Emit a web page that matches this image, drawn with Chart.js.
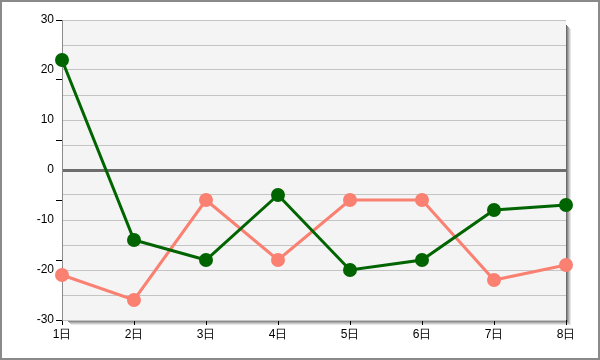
<!DOCTYPE html>
<html>
<head>
<meta charset="utf-8">
<script src="https://cdn.jsdelivr.net/npm/chart.js@4"></script>
<style>
  html, body { margin: 0; padding: 0; background: #ffffff; }
  #wrap { width: 600px; height: 360px; }
</style>
</head>
<body>
<div id="wrap"><canvas id="lineChart" width="600" height="360"></canvas></div>
<script>
// Categories (days)
const days = ['1日', '2日', '3日', '4日', '5日', '6日', '7日', '8日'];

// Series values
const greenValues = [22, -14, -18, -5, -20, -18, -8, -7];
const salmonValues = [-21, -26, -6, -18, -6, -6, -22, -19];

// Axis range and tick steps
const yMin = -30;
const yMax = 30;
const gridStep = 5;
const labelStep = 10;
const tickMarkStep = 12;

const ctx = document.getElementById('lineChart').getContext('2d');

// Plot background, drop shadow and outer frame
const framePlugin = {
    id: 'frame',
    beforeDraw(chart) {
        const c = chart.ctx;
        const a = chart.chartArea;
        c.save();
        c.fillStyle = '#ffffff';
        c.fillRect(0, 0, chart.width, chart.height);

        // shadow on right and bottom
        const shades = ['#6a6a6a', '#8c8c8c', '#acacac', '#cccccc', '#e6e6e6'];
        shades.forEach((col, i) => {
            c.fillStyle = col;
            c.fillRect(a.right + i, a.top + 5 + i, 1, a.bottom - a.top - 5 + 1);
            c.fillRect(a.left + 5 + i, a.bottom + i, a.right - a.left - 5 + 1, 1);
        });

        c.fillStyle = '#f4f4f4';
        c.fillRect(a.left, a.top, a.right - a.left, a.bottom - a.top);

        c.strokeStyle = '#8a8a8a';
        c.lineWidth = 2;
        c.strokeRect(1, 1, chart.width - 2, chart.height - 2);
        c.restore();
    }
};

new Chart(ctx, {
    type: 'line',
    data: {
        labels: days,
        datasets: [
            {
                label: 'green',
                data: greenValues,
                borderColor: '#006400',
                backgroundColor: '#006400',
                borderWidth: 3,
                pointRadius: 5.5,
                pointHoverRadius: 5.5,
                tension: 0,
                fill: false
            },
            {
                label: 'salmon',
                data: salmonValues,
                borderColor: '#fa8072',
                backgroundColor: '#fa8072',
                borderWidth: 3,
                pointRadius: 5.5,
                pointHoverRadius: 5.5,
                tension: 0,
                fill: false
            }
        ]
    },
    options: {
        responsive: false,
        animation: false,
        events: [],
        layout: {
            padding: { top: 20, right: 34, left: 0, bottom: 0 }
        },
        plugins: {
            legend: { display: false },
            tooltip: { enabled: false }
        },
        scales: {
            x: {
                offset: false,
                grid: {
                    display: true,
                    drawOnChartArea: false,
                    drawTicks: true,
                    tickLength: 5,
                    color: '#000000'
                },
                border: { display: false },
                ticks: {
                    color: '#000000',
                    padding: 2,
                    maxRotation: 0,
                    font: { family: 'Liberation Sans', size: 12 }
                },
                afterFit(scale) { scale.height = 40; }
            },
            y: {
                min: yMin,
                max: yMax,
                weight: 1,
                grid: {
                    drawTicks: false,
                    color: (c) => (c.tick && c.tick.value === 0 ? '#6e6e6e' : '#c4c4c4'),
                    lineWidth: (c) => (c.tick && c.tick.value === 0 ? 3 : 1)
                },
                border: { display: true, color: '#8a8a8a', width: 1 },
                ticks: {
                    stepSize: gridStep,
                    padding: 8,
                    color: '#000000',
                    font: { family: 'Liberation Sans', size: 12 },
                    callback: (v) => (v % labelStep === 0 ? v : '')
                },
                afterFit(scale) { scale.width = 62; }
            },
            yMarks: {
                position: 'left',
                min: yMin,
                max: yMax,
                weight: 0,
                grid: {
                    drawOnChartArea: false,
                    drawTicks: true,
                    tickLength: 6,
                    color: '#000000'
                },
                border: { display: false },
                ticks: {
                    stepSize: tickMarkStep,
                    display: false
                },
                afterFit(scale) { scale.width = 0; }
            }
        }
    },
    plugins: [framePlugin]
});
</script>
</body>
</html>
